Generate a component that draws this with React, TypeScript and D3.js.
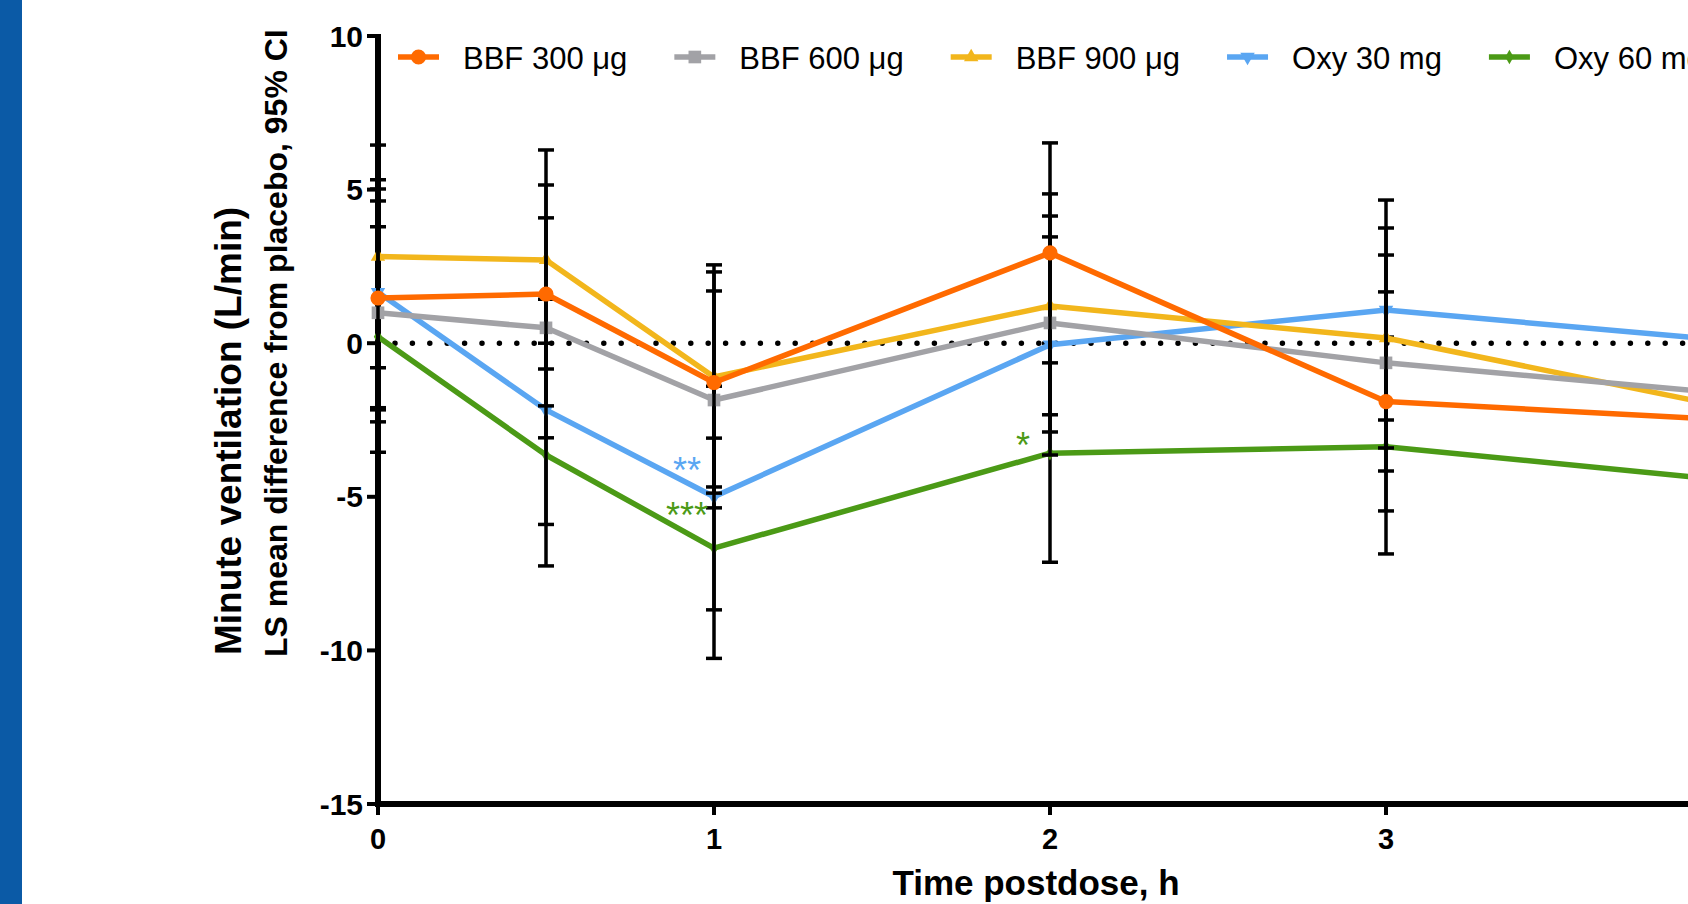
import React, { useEffect, useRef } from 'react';
import * as d3 from 'd3';

// time points (h); the last one lies past the right edge of the picture
const times = [0, 0.5, 1, 2, 3, 4];

const seriesNames = ['BBF 300 \u03bcg', 'BBF 600 \u03bcg', 'BBF 900 \u03bcg', 'Oxy 30 mg', 'Oxy 60 mg'];
const seriesColors = ['#ff6a00', '#a2a2a6', '#f2b61c', '#5aa6f2', '#4b9a16'];
const seriesSymbols = ['circle', 'square', 'triangle', 'triangleDown', 'diamond'];

// LS mean difference from placebo, with 95% CI
const bbf300Mean = [1.47, 1.6, -1.28, 2.94, -1.9, -2.49];
const bbf300Low = [-2.17, -2.04, -4.88, -0.64, -5.46, -6.1];
const bbf300High = [5.02, 5.15, 2.32, 6.52, 1.67, 1.1];

const bbf600Mean = [0.99, 0.5, -1.85, 0.66, -0.64, -1.62];
const bbf600Low = [-2.56, -3.08, -5.36, -2.89, -4.16, -5.2];
const bbf600High = [4.63, 4.08, 1.7, 4.14, 2.87, 1.95];

const bbf900Mean = [2.82, 2.71, -1.1, 1.21, 0.17, -2.05];
const bbf900Low = [-0.8, -0.84, -4.68, -2.33, -3.41, -5.65];
const bbf900High = [6.45, 6.29, 2.55, 4.86, 3.75, 1.55];

const oxy30Mean = [1.66, -2.17, -5.0, -0.05, 1.08, 0.1];
const oxy30Low = [-2.1, -5.9, -8.68, -3.64, -2.5, -3.5];
const oxy30High = [5.32, 1.43, -1.4, 3.46, 4.66, 3.7];

const oxy60Mean = [0.21, -3.64, -6.67, -3.58, -3.37, -4.45];
const oxy60Low = [-3.55, -7.25, -10.26, -7.13, -6.86, -8.05];
const oxy60High = [3.79, 0.0, -3.09, 0.0, 0.2, -0.85];

const yTicks = [10, 5, 0, -5, -10, -15];
const xTicks = [0, 1, 2, 3];

// significance marks: series index, time, label, value where the mark sits
const sigSeries = [3, 4, 4];
const sigTimes = [1, 1, 2];
const sigLabels = ['**', '***', '*'];
const sigValues = [-3.9, -5.36, -3.09];

const FONT = '"Liberation Sans", Arial, Helvetica, sans-serif';

const symbolFor = (name: string) => {
  if (name === 'circle') return d3.symbol().type(d3.symbolCircle).size(180);
  if (name === 'square') return d3.symbol().type(d3.symbolSquare).size(160);
  if (name === 'diamond') return d3.symbol().type(d3.symbolDiamond).size(60);
  return d3.symbol().type(d3.symbolTriangle).size(90);
};

function drawChart(node: SVGSVGElement) {
  const svg = d3.select(node);
  svg.selectAll('*').remove();

  const means = [bbf300Mean, bbf600Mean, bbf900Mean, oxy30Mean, oxy60Mean];
  const lows = [bbf300Low, bbf600Low, bbf900Low, oxy30Low, oxy60Low];
  const highs = [bbf300High, bbf600High, bbf900High, oxy30High, oxy60High];

  const x = d3.scaleLinear().domain([0, 4]).range([378, 1722]);
  const y = d3.scaleLinear().domain([-15, 10]).range([804, 36]);

  // blue strip on the left edge
  svg.append('rect').attr('x', 0).attr('y', 0).attr('width', 22).attr('height', 904).attr('fill', '#0b5aa6');

  // dotted zero line
  svg
    .append('line')
    .attr('x1', x(0) + 17)
    .attr('x2', 1700)
    .attr('y1', y(0))
    .attr('y2', y(0))
    .attr('stroke', '#000')
    .attr('stroke-width', 5.5)
    .attr('stroke-linecap', 'round')
    .attr('stroke-dasharray', '0,17.4');

  // y axis
  svg
    .append('line')
    .attr('x1', x(0))
    .attr('x2', x(0))
    .attr('y1', y(10) - 2)
    .attr('y2', y(-15) + 3)
    .attr('stroke', '#000')
    .attr('stroke-width', 6);
  svg
    .selectAll('.ytick')
    .data(yTicks)
    .enter()
    .append('line')
    .attr('x1', x(0) - 11)
    .attr('x2', x(0))
    .attr('y1', (d) => y(d))
    .attr('y2', (d) => y(d))
    .attr('stroke', '#000')
    .attr('stroke-width', 4);
  svg
    .selectAll('.ylab')
    .data(yTicks)
    .enter()
    .append('text')
    .attr('x', x(0) - 15)
    .attr('y', (d) => y(d) + 10.5)
    .attr('text-anchor', 'end')
    .style('font-family', FONT)
    .style('font-weight', 700)
    .style('font-size', '30px')
    .text((d) => String(d));

  // x axis
  svg
    .append('line')
    .attr('x1', x(0) - 3)
    .attr('x2', 1700)
    .attr('y1', y(-15))
    .attr('y2', y(-15))
    .attr('stroke', '#000')
    .attr('stroke-width', 6);
  svg
    .selectAll('.xtick')
    .data(xTicks)
    .enter()
    .append('line')
    .attr('x1', (d) => x(d))
    .attr('x2', (d) => x(d))
    .attr('y1', y(-15))
    .attr('y2', y(-15) + 11)
    .attr('stroke', '#000')
    .attr('stroke-width', 4);
  svg
    .selectAll('.xlab')
    .data(xTicks)
    .enter()
    .append('text')
    .attr('x', (d) => x(d))
    .attr('y', 849)
    .attr('text-anchor', 'middle')
    .style('font-family', FONT)
    .style('font-weight', 700)
    .style('font-size', '29px')
    .text((d) => String(d));

  // axis titles
  svg
    .append('text')
    .attr('x', 1036)
    .attr('y', 895)
    .attr('text-anchor', 'middle')
    .style('font-family', FONT)
    .style('font-weight', 700)
    .style('font-size', '35px')
    .text('Time postdose, h');

  svg
    .append('text')
    .attr('transform', 'translate(241,655) rotate(-90)')
    .style('font-family', FONT)
    .style('font-weight', 700)
    .style('font-size', '37px')
    .text('Minute ventilation (L/min)');
  svg
    .append('text')
    .attr('transform', 'translate(287,657) rotate(-90)')
    .style('font-family', FONT)
    .style('font-weight', 700)
    .style('font-size', '32px')
    .text('LS mean difference from placebo, 95% CI');

  // series, last one at the bottom
  const line = d3
    .line<number>()
    .x((d, i) => x(times[i]))
    .y((d) => y(d));

  for (let s = seriesNames.length - 1; s >= 0; s--) {
    const g = svg.append('g');
    const pts = times.map((t, i) => ({ t, m: means[s][i], lo: lows[s][i], hi: highs[s][i] }));

    // error bars
    const eb = g.selectAll('.eb').data(pts).enter().append('g').attr('stroke', '#000').attr('stroke-width', 3.5);
    eb.append('line')
      .attr('x1', (d) => x(d.t))
      .attr('x2', (d) => x(d.t))
      .attr('y1', (d) => y(d.lo))
      .attr('y2', (d) => y(d.hi));
    eb.append('line')
      .attr('x1', (d) => x(d.t) - 8)
      .attr('x2', (d) => x(d.t) + 8)
      .attr('y1', (d) => y(d.lo))
      .attr('y2', (d) => y(d.lo));
    eb.append('line')
      .attr('x1', (d) => x(d.t) - 8)
      .attr('x2', (d) => x(d.t) + 8)
      .attr('y1', (d) => y(d.hi))
      .attr('y2', (d) => y(d.hi));

    g.append('path')
      .attr('d', line(means[s]))
      .attr('fill', 'none')
      .attr('stroke', seriesColors[s])
      .attr('stroke-width', 5.5)
      .attr('stroke-linejoin', 'round');

    const sym = symbolFor(seriesSymbols[s]);
    g.selectAll('.mk')
      .data(pts)
      .enter()
      .append('path')
      .attr('d', sym() as string)
      .attr('transform', (d) => `translate(${x(d.t)},${y(d.m)})${seriesSymbols[s] === 'triangleDown' ? ' rotate(180)' : ''}`)
      .attr('fill', seriesColors[s]);
  }

  // significance marks
  sigLabels.forEach((lab, i) => {
    svg
      .append('text')
      .attr('x', x(sigTimes[i]) - 27)
      .attr('y', y(sigValues[i]) + 20)
      .attr('text-anchor', 'middle')
      .attr('fill', seriesColors[sigSeries[i]])
      .style('font-family', FONT)
      .style('font-size', '36px')
      .text(lab);
  });

  // legend along the top
  let lx = 398;
  const ly = 57;
  seriesNames.forEach((name, s) => {
    const g = svg.append('g');
    g.append('line')
      .attr('x1', lx)
      .attr('x2', lx + 41)
      .attr('y1', ly)
      .attr('y2', ly)
      .attr('stroke', seriesColors[s])
      .attr('stroke-width', 5.5);
    g.append('path')
      .attr('d', symbolFor(seriesSymbols[s])() as string)
      .attr('transform', `translate(${lx + 20.5},${ly})${seriesSymbols[s] === 'triangleDown' ? ' rotate(180)' : ''}`)
      .attr('fill', seriesColors[s]);
    const txt = g
      .append('text')
      .attr('x', lx + 65)
      .attr('y', ly + 11.5)
      .style('font-family', FONT)
      .style('font-size', '31px')
      .text(name);
    const w = (txt.node() as SVGTextElement).getComputedTextLength();
    lx += 65 + w + 47;
  });
}

export default function App() {
  const chRef = useRef<SVGSVGElement>(null);

  useEffect(() => {
    if (chRef.current) drawChart(chRef.current);
  }, []);

  return (
    <svg
      ref={chRef}
      width={1688}
      height={904}
      style={{ position: 'absolute', left: 0, top: 0, background: '#fff', overflow: 'hidden' }}
    />
  );
}
